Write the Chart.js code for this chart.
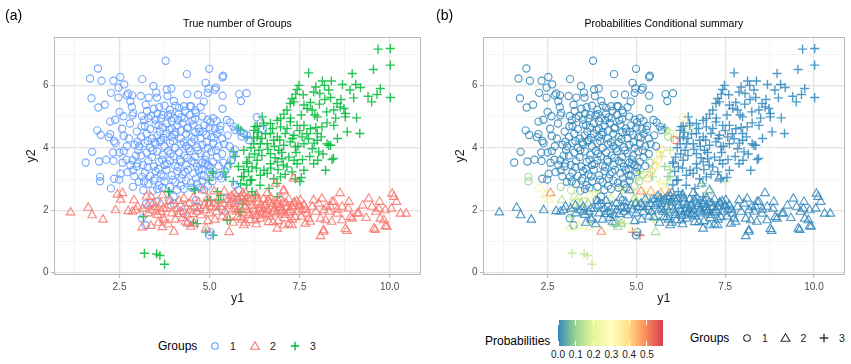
<!DOCTYPE html>
<html><head><meta charset="utf-8">
<script src="https://cdn.jsdelivr.net/npm/chart.js@4.4.0/dist/chart.umd.min.js"></script>
<style>
body{margin:0;width:851px;height:364px;background:#fff;font-family:"Liberation Sans",Arial,sans-serif;position:relative;overflow:hidden}
.abs{position:absolute;white-space:nowrap;line-height:1}
canvas{position:absolute;top:0}
#ca{left:0}
#cb{left:429px}
</style></head><body>
<canvas id="ca" width="430" height="310"></canvas>
<canvas id="cb" width="422" height="310"></canvas>
<div class="abs" style="left:5px;top:8px;font-size:14px">(a)</div>
<div class="abs" style="left:436px;top:8px;font-size:14px">(b)</div>
<div class="abs" id="ta" style="top:18px;font-size:10.5px">True number of Groups</div>
<div class="abs" id="tb" style="top:18px;font-size:10.5px">Probabilities Conditional summary</div>
<div id="legA"></div>
<div id="legB"></div>
<script>
// ---------------- DATA ----------------
const groupNames = ['1','2','3'];
const xMajor = [2.5, 5, 7.5, 10];
const xMajorLabels = ['2.5', '5.0', '7.5', '10.0'];
const xMinor = [1.25, 3.75, 6.25, 8.75];
const yMajor = [0, 2, 4, 6];
const yMajorLabels = ['0', '2', '4', '6'];
const yMinor = [1, 3, 5, 7];
const probTicks = [0.0, 0.1, 0.2, 0.3, 0.4, 0.5];
const probLabels = ['0.0', '0.1', '0.2', '0.3', '0.4', '0.5'];

// group 1 (circles): [y1, y2, probability(optional)]
const group1 = [
[3.78,6.79],[1.90,6.54],[1.68,6.22],[2.00,6.15],[2.33,6.15],[2.52,6.27],[2.63,6.03],[2.47,5.93],[3.13,6.20],[4.37,6.36],[4.99,6.53],[5.38,6.31],[5.36,6.26],[4.89,6.08],[4.97,5.90],[5.18,5.93],[3.44,5.98],[3.52,5.77],[3.81,5.87],[3.94,5.90],[3.83,5.66],[2.74,5.74],[2.70,5.68],[2.85,5.68],[2.26,5.76],[1.72,5.59],[2.47,5.61],[3.09,5.66],[3.31,5.61],[3.54,5.61],[4.38,5.72],[4.68,5.70],[4.95,5.76],[5.36,5.67],[4.84,5.48],[4.01,5.50],[2.09,5.38],[1.91,5.29],[2.80,5.49],[2.84,5.31],[3.23,5.38],[3.26,5.18],[4.15,5.28],[4.29,5.33],[4.45,5.33],[4.49,5.33],[5.36,5.25],[2.88,5.12],[2.86,5.04],[2.50,5.15],[2.61,5.01],[2.38,4.90],[2.24,4.84],[1.88,4.56],[1.98,4.41],[2.24,4.44],[2.35,4.22],[2.57,4.61],[2.79,4.78],[3.11,4.69],[1.74,3.87],
[5.82,5.72],[6.03,5.75],[5.87,5.50],[5.15,5.86],
[6.31,4.98,0.2],[6.49,4.59,0.12],[5.48,4.89],[5.57,4.81],[5.66,4.68],[5.71,4.57],[5.85,4.52,0.15],[5.94,4.47,0.25],[6.03,4.41,0.3],[6.08,4.25,0.5],[5.89,4.36,0.1],
[5.70,3.95,0.4],[5.66,3.78,0.38],[5.60,3.60,0.35],[5.52,3.42,0.4],[5.43,3.25,0.42],[5.32,3.02,0.45],[5.27,3.10,0.3],[4.85,2.65,0.4],[5.38,3.52,0.1],[5.20,3.15,0.12],[5.08,2.93,0.1],
[1.56,3.53],[1.93,3.56],[2.13,3.62],[2.33,3.58],[2.69,3.62],[1.96,3.07,0.1],[1.96,2.93,0.1],[2.26,2.70,0.25],[2.35,3.01],[2.49,2.98],[2.53,3.17],[2.87,3.28],[2.91,3.09],[2.87,2.75,0.1],[3.04,2.91],[3.16,2.64,0.15],[3.13,3.07],
[2.32,3.85],[2.38,4.15],[2.20,4.34],[2.50,3.85],[2.62,3.90],[2.70,4.05],[2.76,4.30],[2.62,4.38],[2.86,3.60],[2.95,3.75],[2.92,4.10],[2.98,3.40],[2.80,3.45],
[3.23,2.21,0.1],[3.23,1.52],[3.12,1.74],[4.41,1.58],[4.62,2.32],[4.66,2.11],[4.99,1.20],[5.03,1.30],[4.01,2.21],[4.20,2.11],[3.88,2.32],[4.00,2.44],[3.53,2.28,0.15],[3.35,2.22,0.2],[5.34,2.01],[5.48,2.38],[5.76,2.33],[5.80,2.65,0.35],[5.71,2.81,0.3],[4.27,1.90],
[3.45,5.25],[3.60,5.30],[3.75,5.35],[3.90,5.22],[4.05,5.35],[4.60,5.20],[4.75,5.30],[3.55,5.10],[3.70,5.05],
[3.30,4.95],[3.50,4.90],[3.65,4.95],[3.85,5.05],[4.00,4.95],[4.15,5.10],[4.30,4.95],[4.45,5.05],[4.60,4.92],[4.80,5.00],[4.95,4.90],[5.10,4.95],[5.20,4.85],[3.95,4.85],
[3.20,4.70],[3.35,4.60],[3.50,4.75],[3.70,4.65],[3.80,4.78],[3.95,4.62],[4.10,4.72],[4.25,4.80],[4.40,4.65],[4.55,4.75],[4.70,4.62],[4.85,4.72],[5.00,4.65],[5.15,4.60],[5.30,4.70],[4.20,4.55],
[3.10,4.35],[3.25,4.45],[3.40,4.30],[3.55,4.40],[3.65,4.25],[3.80,4.45],[3.95,4.35],[4.05,4.50],[4.20,4.30],[4.35,4.45],[4.50,4.35],[4.60,4.50],[4.75,4.30],[4.90,4.42],[5.05,4.35],[5.20,4.45],[5.35,4.30],[5.50,4.40],[3.00,4.20],
[3.05,4.05],[3.20,4.15],[3.35,4.00],[3.50,4.12],[3.62,4.20],[3.75,4.05],[3.90,4.15],[4.05,4.00],[4.20,4.12],[4.35,4.05],[4.50,4.18],[4.65,4.02],[4.80,4.10],[4.95,4.00],[5.10,4.15],[5.25,4.05],[5.40,4.12],[5.55,4.05],
[3.10,3.75],[3.25,3.85],[3.40,3.70],[3.55,3.88],[3.70,3.78],[3.85,3.90],[4.00,3.72],[4.15,3.85],[4.30,3.75],[4.45,3.90],[4.60,3.70],[4.75,3.82],[4.90,3.75],[5.05,3.88],[5.20,3.70],[5.35,3.80],
[3.00,3.50],[3.15,3.45],[3.30,3.58],[3.45,3.40],[3.60,3.55],[3.75,3.45],[3.90,3.60],[4.05,3.42],[4.20,3.55],[4.35,3.45],[4.50,3.58],[4.65,3.40],[4.80,3.52],[4.95,3.45],[5.10,3.55],[5.25,3.42],
[3.20,3.20],[3.35,3.10],[3.50,3.25],[3.65,3.15],[3.80,3.30],[3.95,3.12],[4.10,3.25],[4.25,3.15],[4.40,3.30],[4.55,3.18],[4.70,3.28],[4.85,3.10],[5.00,3.22],
[3.30,2.85],[3.45,2.95],[3.60,2.80],[3.75,2.92],[3.90,2.75],[4.05,2.90],[4.20,2.78],[4.35,2.95],[4.50,2.72],[4.65,2.85],[4.80,2.95],[4.95,2.78,0.1],[3.55,2.68],[4.10,2.65],
[3.38,5.02],[3.62,4.52],[3.88,4.58],[4.12,4.88],[4.38,4.62],[4.58,4.28],[4.72,4.52],[4.92,4.18],[5.12,4.32],[5.28,4.58],[3.48,4.18],[3.72,4.32],[3.98,4.22],[4.28,4.18],[4.42,3.98],[4.68,3.92],[4.88,3.62],[5.18,3.92],[3.42,3.92],[3.68,3.62],[3.92,3.82],[4.18,3.62],[4.38,3.68],[4.58,3.52],[4.78,3.32],[5.02,3.38],[3.28,3.38],[3.58,3.32],[3.82,3.48],[4.12,3.38],[4.32,3.22],[4.62,3.02],[4.88,3.48],[3.48,3.02],[3.72,3.08],[3.98,2.98],[4.22,3.02],[4.48,2.88],[4.72,2.72],[3.18,2.92],[3.68,2.72],[4.28,2.68],[4.02,4.42],[4.22,4.98],[3.58,4.72],[3.18,4.88],[3.02,3.92],[2.98,4.52],[3.28,4.22],[4.52,4.88],[4.82,4.52],[5.02,4.82],[4.62,5.12],[3.92,5.08],[4.32,5.18],[3.12,5.02],[2.72,3.22],[2.58,3.52],[3.42,2.62],[4.78,3.12]
];

// group 2 (triangles)
const group2 = [
[1.14,1.93],[1.63,2.08],[1.74,1.84],[2.04,1.70],[2.39,2.00],[2.44,2.50,0.2],[2.58,2.55,0.5],[2.53,2.34,0.22],[2.74,1.97],[2.90,2.32,0.12],[3.00,2.11],[2.95,2.00],[2.86,1.95],[3.37,2.43,0.2],[3.41,2.00],[3.69,2.48,0.2],[3.64,2.21,0.1],[3.66,1.95],[3.74,1.68],[3.69,1.46,0.2],[3.37,1.50,0.2],[3.13,1.45,0.2],[4.01,1.31,0.5],[3.25,2.44,0.15],[3.44,2.22,0.1],[3.72,1.74],[4.33,1.63],
[4.29,2.37,0.15],[4.43,2.21],[4.57,2.11],[4.20,1.95],[4.38,1.84],[4.76,1.84],[4.89,2.00],[4.94,2.37,0.1],[5.13,2.21],[5.31,2.11],[5.49,2.32],[5.63,2.00],[5.49,1.78],[5.54,1.30,0.1],[4.80,2.64],
[4.38,1.58,0.1],[4.57,1.58,0.1],[4.48,1.47,0.1],[4.90,1.42,0.25],
[3.15,2.05],[3.30,1.90],[3.50,2.10],[3.55,1.85],[3.80,2.05],[3.90,2.30],[3.95,1.90],[4.10,2.05],[4.15,2.30],[4.25,1.75],[4.45,2.00],[4.55,2.40],[4.65,1.95],[4.70,2.25],[4.85,2.15],[5.00,1.90],[5.05,2.10],[5.20,1.95],[5.25,2.35],[5.35,1.80],[5.40,2.20],[4.95,1.65],[5.15,1.70],[3.85,1.55],[4.05,1.70],[3.58,1.60],
[5.13,2.60,0.5],[5.41,2.60,0.45],[5.69,2.54,0.45],[5.92,2.54,0.5],
[5.60,2.45],[5.70,2.20],[5.75,1.95],[5.80,2.35],[5.85,2.10],[5.90,1.70],[5.95,2.45],[6.00,2.25],[6.05,2.00],[6.10,1.85],[6.15,2.35],[6.20,2.15],[6.25,1.95],[6.30,2.50],[6.35,2.25],[6.40,2.05],[6.45,1.90],[6.50,2.35],[6.55,2.15],[6.60,2.00],[6.65,1.80],[6.70,2.40],[6.75,2.20],[6.80,2.05],[6.85,1.90],[6.90,2.30],[6.95,2.10],[7.00,1.95],[7.05,2.25],[7.10,1.85],[7.15,2.10],[7.20,2.35],[7.25,2.00],[7.30,1.70],[7.35,2.25],[7.45,1.95],[7.50,2.15],[7.55,1.80],[5.65,1.60],[6.00,1.60],[6.30,1.55],[6.90,1.65],[7.20,1.55],[6.00,2.55],[6.60,2.55],
[8.62,2.55],[8.87,2.27],[8.45,2.27],[9.42,2.37],[9.72,2.27],[10.07,2.53],[10.12,2.43],[10.19,2.27],[9.51,2.11],[9.70,2.05],[9.88,2.00],[10.05,2.05],[10.30,1.89],[10.46,1.89],[9.74,1.73],[9.84,1.68],[9.88,1.49],[9.56,1.41],[9.10,1.89],[8.91,1.78],[8.96,1.73],[8.68,1.68],[8.54,1.89],[8.68,2.11],[8.77,1.40],[8.17,1.36],[8.08,1.17],[8.40,2.27],[8.26,2.11],[8.12,2.37],[8.03,2.21],[8.17,2.00],[8.31,1.95],[8.08,1.73],[8.22,1.68],[7.89,2.32],[7.85,2.11],[7.75,1.73],[7.71,1.89],[7.62,2.16],[7.52,2.32],[7.48,2.11],[7.34,2.21],[7.24,1.95],[7.38,1.78],[7.66,1.57],[7.06,2.64],[6.83,2.85],[7.29,1.52],[7.06,1.52],[6.88,1.41],[6.76,1.62],[6.64,1.62],[6.55,1.84],[6.41,1.73],[6.27,1.68],[6.13,1.68],[5.95,1.52],[5.86,1.78],[7.33,3.02],[7.05,2.60,0.1],[9.14,1.90],[8.39,1.63],[7.79,1.63],[9.60,1.37],[9.92,1.47],[8.81,1.34],[8.16,1.31],
[5.58,2.25],[5.72,2.05],[5.78,1.78],[5.88,2.42],[5.98,2.12],[6.08,1.92],[6.12,2.28],[6.22,2.02],[6.28,1.82],[6.32,2.38],[6.42,2.18],[6.48,2.02],[6.58,1.88],[6.62,2.32],[6.72,2.12],[6.78,1.95],[6.88,2.18],[6.98,2.38],[7.02,2.02],[7.12,2.22],[7.18,1.92],[7.28,2.12],[7.42,2.28],[7.58,2.02],[5.68,2.38],[6.05,2.38],[6.38,1.95],[6.68,2.25],[6.92,1.98],[7.08,1.75],[5.52,2.15],[5.42,1.95],[5.18,2.10],[4.98,2.22],[4.72,2.05],[4.52,1.88],[4.32,2.12],[4.12,1.88],[3.92,2.15],[3.72,2.05],[3.52,1.95],[3.28,2.15],[7.68,2.02],[7.95,1.95],[8.35,2.12],[8.55,2.02],[8.85,2.05],[9.25,2.15],[9.35,1.75],[9.62,1.95]
];

// group 3 (crosses)
const group3 = [
[9.68,7.16],[10.02,7.18],[10.02,6.65],[9.55,6.51],[10.02,5.61],[7.75,6.40],[8.96,6.38],[8.13,6.14],[8.38,6.14],[8.19,6.00],[8.69,6.03],[9.06,6.03],[9.19,5.93],[9.74,5.90],[7.48,6.00],[7.43,5.87],[7.39,5.72],[7.89,5.79],[8.06,5.74],[8.31,5.85],[8.36,5.61],[9.00,5.60],[9.40,5.65],[9.65,5.71],[9.50,5.47],[7.29,5.58],[7.34,5.47],[7.24,5.42],[8.54,5.42],[8.63,5.31],[8.73,5.26],[8.45,5.21],[7.62,5.37],[7.71,5.26],[7.85,5.21],[7.92,5.05],[7.99,4.99],[8.77,5.10],[8.77,4.99],[9.08,4.96],[7.15,5.21],[7.06,5.08],[6.97,4.94],[8.12,4.67],[8.26,4.80],[8.45,4.72],[8.82,4.51],[9.17,4.46],[7.24,4.83],[7.43,4.72],[7.62,4.72],[7.80,4.61],[7.99,4.46],[6.46,4.99],[6.50,4.72],[6.32,4.69],[6.69,4.78],[6.88,4.88],[6.97,4.67],[6.69,4.46],[6.88,4.35],[7.10,4.46],[7.34,4.40],[7.57,4.35],[7.75,4.29],[7.99,4.24],[8.26,4.13],[8.36,4.08],[6.23,4.56],[6.04,4.35,0.1],[6.32,4.35],[6.41,4.13],
[5.86,4.56,0.12],[6.23,4.13],[6.37,3.92],[6.60,4.13],[6.78,4.24],[6.92,3.92],[7.06,4.08],[7.24,4.19],[7.38,4.03],[7.62,4.13],[7.85,3.97],[8.03,3.87],[8.31,4.08],[5.95,3.92,0.15],[6.69,3.81],
[6.04,3.55],[6.18,3.39],[6.32,3.60],[6.51,3.28],[6.69,3.49],[6.88,3.55],[7.01,3.65],[7.15,3.39],[7.29,3.23],[7.43,3.49],[7.62,3.28],[7.89,3.49],[8.22,3.28],[8.40,3.62],[7.38,3.01],[6.97,3.07],[6.78,3.01],[6.41,3.12],[6.13,2.96],[5.95,3.07,0.1],[5.86,2.85,0.15],[6.18,2.59],[6.27,2.48],[5.95,2.32,0.1],[5.86,1.95,0.15],[6.88,2.43],
[8.44,3.66],[7.51,2.92,0.15],[6.87,2.86,0.1],
[5.66,3.88,0.2],[5.71,3.72,0.15],[5.57,3.50,0.2],[5.80,3.40,0.1],[6.03,3.50],[6.08,3.24],[5.89,3.08,0.1],[5.66,2.92,0.2],[6.03,2.81],[6.17,2.97],[5.80,4.63],[6.26,4.68],[6.50,4.79],[6.22,4.31],
[5.92,2.20,0.1],[5.81,1.93,0.15],[5.57,1.69,0.15],[4.89,1.30,0.55],[5.10,1.20,0.55],[4.55,1.61,0.15],[4.60,2.65,0.2],[5.25,2.33,0.15],[5.10,3.18,0.15],[3.86,2.60,0.2],[3.16,1.79,0.15],[3.19,0.62,0.15],[3.53,0.60,0.15],[3.62,0.55,0.15],[3.75,0.27,0.15],[3.88,2.59,0.2],[4.57,2.69,0.2],[4.99,2.96,0.15],[5.08,3.23,0.1],[5.40,3.23,0.15],[5.45,3.07,0.1],[5.22,2.59,0.2],[5.31,2.48,0.15],[4.94,2.32,0.2],[5.03,2.32,0.2],[4.66,1.57,0.15],[5.49,1.68,0.15],
[6.55,4.45],[6.75,4.62],[6.95,4.25],[7.15,4.62],[7.30,4.30],[7.50,4.55],[7.70,4.45],[7.90,4.15],[8.10,4.35],[6.45,3.75],[6.62,3.95],[6.82,3.68],[7.00,3.85],[7.20,3.70],[7.40,3.85],[7.58,3.62],[7.78,3.72],[8.00,3.60],[6.30,3.35],[6.60,3.18],[6.90,3.30],[7.10,3.15],[7.55,3.05],[6.25,3.80],[6.15,4.00],[6.45,4.30],[7.25,4.95],[7.55,5.05],[7.80,5.45],[8.05,5.40],[8.25,5.15],[8.50,4.95],[8.65,5.55],[8.90,5.85],[7.60,5.70],[7.95,5.95],[8.20,5.55],[6.70,3.35],[7.05,3.45],[7.35,3.60],[6.40,2.80],[6.65,2.70],[6.10,3.70],[5.95,3.30,0.1],[6.35,4.50],[6.80,4.05],[7.45,4.05],[7.95,4.65],[8.55,4.30],[8.15,3.80]
];

// ---------------- STYLE ----------------
const FONT = '"Liberation Sans", Arial, sans-serif';
const groupColors = ['#619CFF', '#F8766D', '#00BA38'];
const groupShapes = ['circle', 'triangle', 'cross'];
const groupRadius = [3.6, 5.0, 4.6];
const groupWidth = [1.15, 1.15, 1.4];
const probStops = ['#3288BD','#99D594','#E6F598','#FFFFBF','#FEE08B','#FC8D59','#D53E4F'];
const probMax = 0.59;

function hexToRgb(h){return [parseInt(h.slice(1,3),16),parseInt(h.slice(3,5),16),parseInt(h.slice(5,7),16)];}
function probColor(p, a){
  let t = Math.max(0, Math.min(1, p / probMax)) * (probStops.length - 1);
  let i = Math.min(Math.floor(t), probStops.length - 2), f = t - i;
  const c0 = hexToRgb(probStops[i]), c1 = hexToRgb(probStops[i+1]);
  const c = c0.map((v,k)=>Math.round(v + (c1[k]-v)*f));
  return `rgba(${c[0]},${c[1]},${c[2]},${a})`;
}
function toPts(arr){return arr.map(d=>({x:d[0], y:d[1], p:d[2]||0}));}
const groups = [group1, group2, group3];
const drawOrder = [1, 0, 2];

const xTickVals = [...xMajor, ...xMinor].sort((a,b)=>a-b);
const yTickVals = [...yMajor, ...yMinor].sort((a,b)=>a-b);
const isMajorX = v => xMajor.some(m=>Math.abs(m-v)<1e-6);
const isMajorY = v => yMajor.some(m=>Math.abs(m-v)<1e-6);

const panelBorder = {
  id:'panelBorder',
  afterDraw(chart){
    const a = chart.chartArea, c = chart.ctx;
    c.save(); c.strokeStyle = '#B8B8B8'; c.lineWidth = 1;
    c.strokeRect(Math.round(a.left)+0.5, Math.round(a.top)+0.5, Math.round(a.right-a.left)-1, Math.round(a.bottom-a.top)-1);
    c.restore();
  }
};

function options(padRight){
  return {
    responsive:false, animation:false, events:[],
    layout:{padding:{top:37, left:0, right:padRight, bottom:0}},
    plugins:{legend:{display:false}, tooltip:{enabled:false}, title:{display:false}},
    scales:{
      x:{type:'linear', min:0.68, max:10.87,
        afterBuildTicks:s=>{s.ticks = xTickVals.map(v=>({value:v}));},
        afterFit:s=>{s.height = 35;},
        ticks:{autoSkip:false, maxRotation:0, padding:3,
          color:'#4D4D4D', font:{family:FONT, size:10},
          callback:v=>{const i = xMajor.findIndex(m=>Math.abs(m-v)<1e-6); return i>=0 ? xMajorLabels[i] : '';}},
        grid:{drawTicks:true, tickLength:3,
          color:c=>isMajorX(c.tick.value)?'#E3E3E3':'#F1F1F1',
          lineWidth:c=>isMajorX(c.tick.value)?1.3:0.8,
          tickColor:c=>isMajorX(c.tick.value)?'#B3B3B3':'rgba(0,0,0,0)', tickWidth:1},
        border:{display:false},
        title:{display:true, text:'y1', color:'#1a1a1a', font:{family:FONT, size:12.5}, padding:{top:0, bottom:4}}
      },
      y:{type:'linear', min:-0.075, max:7.55,
        afterBuildTicks:s=>{s.ticks = yTickVals.map(v=>({value:v}));},
        afterFit:s=>{s.width = 54;},
        ticks:{autoSkip:false, padding:2.5,
          color:'#4D4D4D', font:{family:FONT, size:10},
          callback:v=>{const i = yMajor.findIndex(m=>Math.abs(m-v)<1e-6); return i>=0 ? yMajorLabels[i] : '';}},
        grid:{drawTicks:true, tickLength:3,
          color:c=>isMajorY(c.tick.value)?'#E3E3E3':'#F1F1F1',
          lineWidth:c=>isMajorY(c.tick.value)?1.3:0.8,
          tickColor:c=>isMajorY(c.tick.value)?'#B3B3B3':'rgba(0,0,0,0)', tickWidth:1},
        border:{display:false},
        title:{display:true, text:'y2', color:'#1a1a1a', font:{family:FONT, size:12.5}, padding:{top:24, bottom:0}}
      }
    }
  };
}

// Panel (a): coloured by group
const dsA = drawOrder.map(g=>({
  label: groupNames[g], data: toPts(groups[g]),
  pointStyle: groupShapes[g], pointRadius: groupRadius[g], pointBorderWidth: groupWidth[g],
  pointBorderColor: groupColors[g] + 'D9', pointBackgroundColor:'rgba(0,0,0,0)', showLine:false
}));
const chartA = new Chart(document.getElementById('ca'), {type:'scatter', data:{datasets:dsA}, options:options(9), plugins:[panelBorder]});

// Panel (b): coloured by probability
const dsB = drawOrder.map(g=>({
  label: groupNames[g], data: toPts(groups[g]),
  pointStyle: groupShapes[g], pointRadius: groupRadius[g], pointBorderWidth: groupWidth[g],
  pointBorderColor: c=> probColor(c.raw ? c.raw.p : 0, 0.85), pointBackgroundColor:'rgba(0,0,0,0)', showLine:false
}));
const chartB = new Chart(document.getElementById('cb'), {type:'scatter', data:{datasets:dsB}, options:options(3), plugins:[panelBorder]});

// centre titles over panels
function centreTitle(id, chart, offset){
  const el = document.getElementById(id), a = chart.chartArea;
  el.style.left = (offset + (a.left + a.right)/2 - el.offsetWidth/2) + 'px';
}
centreTitle('ta', chartA, 0);
centreTitle('tb', chartB, 429);

// legends
function sym(shape, x, y, color){
  if (shape==='circle') return `<circle cx="${x}" cy="${y}" r="3.3" fill="none" stroke="${color}" stroke-width="1.1"/>`;
  if (shape==='triangle') return `<polygon points="${x},${y-4.3} ${x-4.5},${y+3.2} ${x+4.5},${y+3.2}" fill="none" stroke="${color}" stroke-width="1.1"/>`;
  return `<path d="M${x-4.3} ${y}H${x+4.3}M${x} ${y-4.3}V${y+4.3}" stroke="${color}" stroke-width="1.4"/>`;
}
function groupLegend(el, left, cy, colors, step){
  let h = `<div class="abs" style="left:${left}px;top:${cy-6}px;font-size:12px">Groups</div>`;
  let s = `<svg class="abs" style="left:${left+45}px;top:${cy-10}px" width="125" height="20">`;
  groupNames.forEach((n,i)=>{
    const x = 12 + i*step;
    s += sym(groupShapes[i], x, 10, colors[i]);
    s += `<text x="${x+18}" y="14" font-size="10.5" font-family='${FONT}' text-anchor="middle" fill="#1a1a1a">${n}</text>`;
  });
  s += '</svg>';
  el.innerHTML = h + s;
}
groupLegend(document.getElementById('legA'), 158, 346, groupColors, 40);
groupLegend(document.getElementById('legB'), 690, 338, ['#333','#333','#333'], 38.5);

// colour bar
(function(){
  const el = document.getElementById('legB');
  const L = 558, W = 105, T = 320, H = 26;
  const grad = probStops.map((c,i)=>`${c} ${(i/(probStops.length-1)*100).toFixed(1)}%`).join(',');
  let h = `<div class="abs" style="left:485px;top:${T+H-11}px;font-size:12px">Probabilities</div>`;
  h += `<div class="abs" style="left:${L}px;top:${T}px;width:${W}px;height:${H}px;background:linear-gradient(to right,${grad})"></div>`;
  probTicks.forEach((v,i)=>{
    const x = L + v/probMax*W;
    h += `<div class="abs" style="left:${x-0.5}px;top:${T}px;width:1px;height:5px;background:#fff"></div>`;
    h += `<div class="abs" style="left:${x-0.5}px;top:${T+H-5}px;width:1px;height:5px;background:#fff"></div>`;
    h += `<div class="abs" style="left:${x-12}px;width:24px;text-align:center;top:${T+H+4}px;font-size:10px;color:#1a1a1a">${probLabels[i]}</div>`;
  });
  el.insertAdjacentHTML('beforeend', h);
})();
</script>
</body></html>
